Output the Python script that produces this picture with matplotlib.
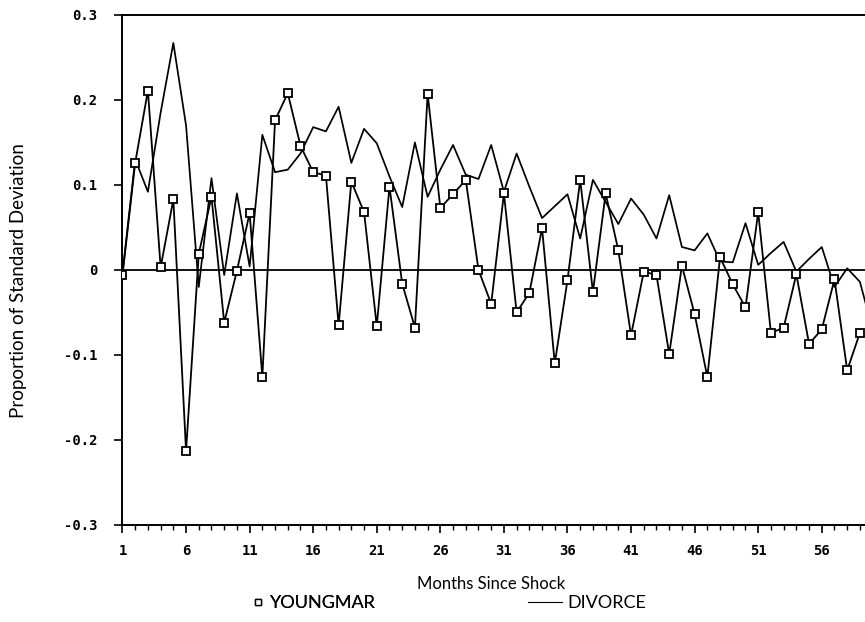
import numpy as np
import matplotlib
matplotlib.use("Agg")
import matplotlib.pyplot as plt
from matplotlib.lines import Line2D

# months since shock
months_young = list(range(1, 60))
months_div = list(range(1, 61))

youngmar = [-0.006, 0.126, 0.211, 0.003, 0.083, -0.213, 0.019, 0.086, -0.062, -0.001,
            0.067, -0.126, 0.176, 0.208, 0.146, 0.115, 0.111, -0.065, 0.104, 0.068,
            -0.066, 0.098, -0.016, -0.068, 0.207, 0.073, 0.089, 0.106, 0.000, -0.040,
            0.090, -0.050, -0.027, 0.049, -0.110, -0.012, 0.106, -0.026, 0.090, 0.023,
            -0.077, -0.002, -0.006, -0.099, 0.005, -0.052, -0.126, 0.015, -0.017, -0.044,
            0.068, -0.074, -0.068, -0.005, -0.087, -0.070, -0.011, -0.118, -0.074]

divorce = [-0.004, 0.130, 0.092, 0.185, 0.267, 0.170, -0.020, 0.108, -0.006, 0.090,
           0.004, 0.159, 0.115, 0.118, 0.137, 0.168, 0.163, 0.192, 0.126, 0.166,
           0.149, 0.110, 0.074, 0.150, 0.086, 0.118, 0.147, 0.112, 0.107, 0.147,
           0.092, 0.137, 0.098, 0.061, 0.075, 0.089, 0.037, 0.106, 0.080, 0.054,
           0.084, 0.065, 0.037, 0.088, 0.027, 0.023, 0.043, 0.010, 0.009, 0.055,
           0.006, 0.020, 0.033, -0.002, 0.013, 0.027, -0.020, 0.002, -0.014, -0.070]

yticks = [-0.3, -0.2, -0.1, 0, 0.1, 0.2, 0.3]
ytick_labels = ["-0.3", "-0.2", "-0.1", "0", "0.1", "0.2", "0.3"]
xticks = list(range(1, 60, 5))

fig = plt.figure(figsize=(8.65, 6.22), dpi=100)
ax = fig.add_axes([0.1416, 0.156, 0.8584, 0.82])

ax.axhline(0, color="black", lw=1.3, zorder=1)
ax.plot(months_div, divorce, color="black", lw=1.25, zorder=2)
ax.plot(months_young, youngmar, color="black", lw=1.3, marker="s", ms=5.6,
        mfc="white", mec="black", mew=1.3, zorder=3)

ax.set_xlim(1, 59.4)
ax.set_ylim(-0.3, 0.3)
ax.set_yticks(yticks)
ax.set_yticklabels(ytick_labels)
ax.set_xticks(xticks)
ax.set_xticks(range(1, 60), minor=True)

for lab in ax.get_xticklabels() + ax.get_yticklabels():
    lab.set_fontfamily("DejaVu Sans Mono")
    lab.set_fontweight("bold")
    lab.set_fontsize(10)

ax.tick_params(axis="y", which="major", direction="out", length=6, width=1.2,
               colors="black", pad=12)
ax.tick_params(axis="x", which="major", direction="out", length=6, width=1.2,
               colors="black", pad=8)
ax.tick_params(axis="x", which="minor", direction="out", length=3.5, width=1.0)
ax.spines["right"].set_visible(False)
for s in ["left", "bottom", "top"]:
    ax.spines[s].set_linewidth(1.4)

ax.set_ylabel("Proportion of Standard Deviation", family="Lato", fontsize=13.5)
ax.yaxis.set_label_coords(-0.128, 0.48)
ax.set_xlabel("Months Since Shock", family="Lato", fontsize=12)
ax.xaxis.set_label_coords(0.497, -0.1)

leg_font = {"family": "Lato", "size": 13}
h_young = Line2D([], [], ls="none", marker="s", ms=4.5, mfc="white", mec="black", mew=1.0)
h_div = Line2D([], [], color="black", lw=0.8)
leg1 = fig.legend([h_young], ["YOUNGMAR"], loc="center left", bbox_to_anchor=(0.2792, 0.03),
                  frameon=False, prop=leg_font, borderpad=0, handlelength=0.8,
                  handletextpad=0.3)
fig.legend([h_div], ["DIVORCE"], loc="center left", bbox_to_anchor=(0.600, 0.03),
           frameon=False, prop=leg_font, borderpad=0, handlelength=1.9,
           handletextpad=0.3)
fig.add_artist(leg1)

fig.savefig("out.png", dpi=100)
